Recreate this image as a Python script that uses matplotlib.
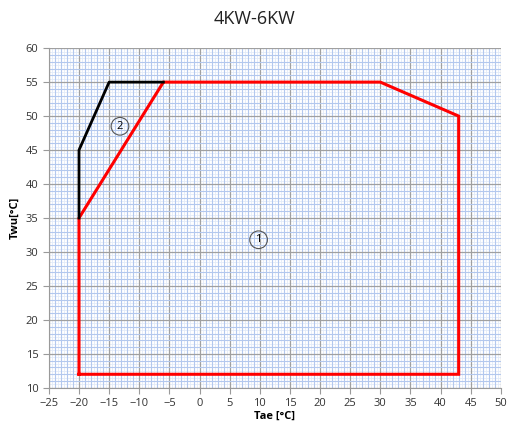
import numpy as np
import matplotlib.pyplot as plt
from matplotlib.ticker import MultipleLocator

# operating envelope, region 1 (red)
red_x = [-20, -20, -6, 30, 43, 43, -20]
red_y = [12, 35, 55, 55, 50, 12, 12]
# region 2 (black)
blk_x = [-20, -20, -15, -6]
blk_y = [35, 45, 55, 55]
# circled labels
lab_txt = ['1', '2']
lab_x = [9.8, -13.2]
lab_y = [31.8, 48.5]

plt.rcParams['font.family'] = ['Open Sans', 'DejaVu Sans']

fig = plt.figure(figsize=(5.09, 4.30), dpi=100)
ax = fig.add_axes([0.096, 0.098, 0.888, 0.79])

ax.set_xlim(-25, 50)
ax.set_ylim(10, 60)
ax.xaxis.set_major_locator(MultipleLocator(5))
ax.yaxis.set_major_locator(MultipleLocator(5))
ax.xaxis.set_minor_locator(MultipleLocator(1))
ax.yaxis.set_minor_locator(MultipleLocator(1))
# extra faint half-step lines
for v in np.arange(-24.5, 50, 1):
    ax.axvline(v, color='#e3ebf9', lw=0.6, zorder=0)
for v in np.arange(10.5, 60, 1):
    ax.axhline(v, color='#e3ebf9', lw=0.6, zorder=0)
ax.grid(which='minor', color='#b3c8ee', lw=0.8)
ax.grid(which='major', color='#a0a0a0', lw=0.9)
ax.set_axisbelow(True)

ax.plot(red_x, red_y, color='#ff0000', lw=2.2, solid_joinstyle='miter')
ax.plot(blk_x, blk_y, color='black', lw=2.0)

for t, x, y in zip(lab_txt, lab_x, lab_y):
    ax.text(x, y, t, fontsize=8, ha='center', va='center',
            bbox=dict(boxstyle='circle,pad=0.3', fc='none', ec='#555555', lw=0.8))

for s in ['top', 'right']:
    ax.spines[s].set_visible(False)
for s in ['left', 'bottom']:
    ax.spines[s].set_color('#9a9a9a')
ax.tick_params(which='major', length=4, color='#9a9a9a', labelsize=8, labelcolor='#333333')
ax.tick_params(which='minor', length=0)

ax.set_xlabel('Tae [°C]', fontsize=8, fontweight='bold', labelpad=1)
ax.set_ylabel('Twu[°C]', fontsize=8, fontweight='bold', labelpad=4)
fig.text(0.5, 0.955, '4KW-6KW', ha='center', va='center', fontsize=13, color='#222222')

fig.savefig('out.png', dpi=100)
